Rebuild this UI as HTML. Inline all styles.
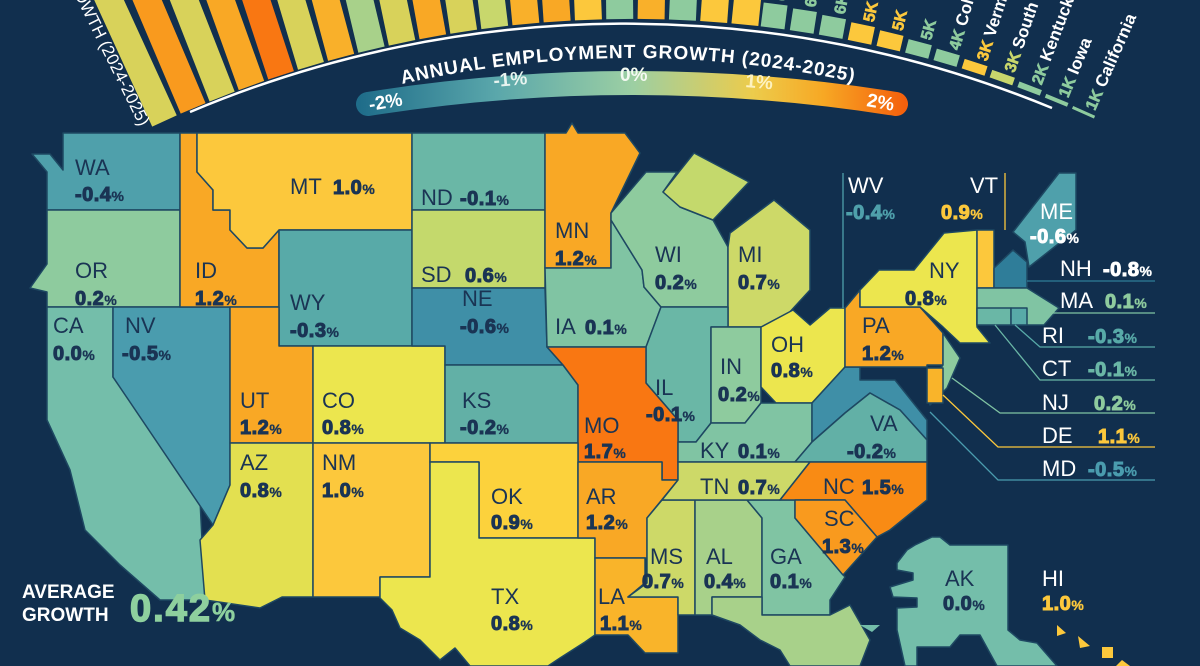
<!DOCTYPE html>
<html><head><meta charset="utf-8"><style>
html,body{margin:0;padding:0;background:#112f4e;}
svg{display:block}
.a{font-family:"Liberation Sans Narrow","Liberation Sans",sans-serif;font-size:22px;fill:#1a3454}
.v{font-family:"Liberation Sans",sans-serif;font-weight:bold;font-size:20px;fill:#1a3454;stroke:#1a3454;stroke-width:1.1;letter-spacing:0.5px}
.p{font-size:14px;stroke-width:0.3}
.w{fill:#fff}
.st{stroke:#1e4862;stroke-width:1.5;stroke-linejoin:round}
.bl{font-family:"Liberation Sans",sans-serif;font-weight:bold;font-size:16px;stroke-width:0.6}
.nm{font-family:"Liberation Sans",sans-serif;font-size:17px;fill:#fff}
</style></head><body>
<svg width="1200" height="666" viewBox="0 0 1200 666" xmlns="http://www.w3.org/2000/svg">
<defs>
<linearGradient id="lg" x1="360" y1="0" x2="905" y2="0" gradientUnits="userSpaceOnUse">
<stop offset="0" stop-color="#1f6d8a"/><stop offset="0.25" stop-color="#5aa7ab"/><stop offset="0.5" stop-color="#9ccfa3"/><stop offset="0.72" stop-color="#eccc4c"/><stop offset="0.85" stop-color="#f7a824"/><stop offset="1" stop-color="#f4600c"/>
</linearGradient>
<path id="tp" d="M 402 84 Q 632 32 862 84"/>
</defs>
<rect width="1200" height="666" fill="#112f4e"/>

<g>
<g transform="rotate(-24.6 632 1141)"><rect x="618" y="-300" width="27" height="319" fill="#d8d25a"/></g>
<g transform="rotate(-23.0 632 1141)"><rect x="618" y="-300" width="27" height="319" fill="#f99a1e"/></g>
<g transform="rotate(-21.4 632 1141)"><rect x="618" y="-300" width="27" height="319" fill="#d8d25a"/></g>
<g transform="rotate(-19.8 632 1141)"><rect x="618" y="-300" width="27" height="319" fill="#f9a825"/></g>
<g transform="rotate(-18.2 632 1141)"><rect x="618" y="-300" width="27" height="319" fill="#f97712"/></g>
<g transform="rotate(-16.6 632 1141)"><rect x="618" y="-300" width="27" height="319" fill="#d8d25a"/></g>
<g transform="rotate(-15.0 632 1141)"><rect x="618" y="-300" width="27" height="319" fill="#f9b02a"/></g>
<g transform="rotate(-13.4 632 1141)"><rect x="618" y="-300" width="27" height="319" fill="#a8d18a"/></g>
<g transform="rotate(-11.8 632 1141)"><rect x="618" y="-300" width="27" height="319" fill="#d8d25a"/></g>
<g transform="rotate(-10.2 632 1141)"><rect x="618" y="-300" width="27" height="319" fill="#f9a825"/></g>
<g transform="rotate(-8.6 632 1141)"><rect x="618" y="-300" width="27" height="319" fill="#d8d25a"/></g>
<g transform="rotate(-7.0 632 1141)"><rect x="618" y="-300" width="27" height="319" fill="#c8d76c"/></g>
<g transform="rotate(-5.4 632 1141)"><rect x="618" y="-300" width="27" height="319" fill="#f9b02a"/></g>
<g transform="rotate(-3.8 632 1141)"><rect x="618" y="-300" width="27" height="319" fill="#f9a825"/></g>
<g transform="rotate(-2.2 632 1141)"><rect x="618" y="-300" width="27" height="319" fill="#fcc83c"/></g>
<g transform="rotate(-0.6 632 1141)"><rect x="618" y="-300" width="27" height="319" fill="#8ecb9e"/></g>
<g transform="rotate(1.0 632 1141)"><rect x="618" y="-300" width="27" height="319" fill="#f9b02a"/></g>
<g transform="rotate(2.6 632 1141)"><rect x="618" y="-300" width="27" height="319" fill="#8ecb9e"/></g>
<g transform="rotate(4.2 632 1141)"><rect x="618" y="-300" width="27" height="319" fill="#fcc83c"/></g>
<g transform="rotate(5.8 632 1141)"><rect x="618" y="-300" width="27" height="319" fill="#fcc83c"/></g>

<g transform="rotate(7.3 632 1141)"><rect x="618" y="-5" width="24" height="24" fill="#8ecb9e"/><text transform="rotate(-90 640 -9)" x="640" y="-9" class="bl" fill="#8ecb9e" stroke="#8ecb9e">6K</text></g>
<g transform="rotate(8.8 632 1141)"><rect x="618" y="-3" width="24" height="22" fill="#8ecb9e"/><text transform="rotate(-90 640 -7)" x="640" y="-7" class="bl" fill="#8ecb9e" stroke="#8ecb9e">6K</text></g>
<g transform="rotate(10.3 632 1141)"><rect x="618" y="-1" width="24" height="20" fill="#8ecb9e"/><text transform="rotate(-90 640 -5)" x="640" y="-5" class="bl" fill="#8ecb9e" stroke="#8ecb9e">6K</text></g>
<g transform="rotate(11.8 632 1141)"><rect x="618" y="1" width="24" height="18" fill="#fcc83c"/><text transform="rotate(-90 640 -3)" x="640" y="-3" class="bl" fill="#fcc83c" stroke="#fcc83c">5K</text></g>
<g transform="rotate(13.3 632 1141)"><rect x="618" y="3" width="24" height="16" fill="#fcc83c"/><text transform="rotate(-90 640 -1)" x="640" y="-1" class="bl" fill="#fcc83c" stroke="#fcc83c">5K</text></g>
<g transform="rotate(14.8 632 1141)"><rect x="618" y="5" width="24" height="14" fill="#8ecb9e"/><text transform="rotate(-90 640 1)" x="640" y="1" class="bl" fill="#8ecb9e" stroke="#8ecb9e">5K</text></g>
<g transform="rotate(16.3 632 1141)"><rect x="618" y="7" width="24" height="12" fill="#8ecb9e"/><text transform="rotate(-90 640 3)" x="640" y="3" class="bl" fill="#8ecb9e" stroke="#8ecb9e">4K <tspan class="nm" stroke="none">Colorado</tspan></text></g>
<g transform="rotate(17.8 632 1141)"><rect x="618" y="9" width="24" height="10" fill="#fcc83c"/><text transform="rotate(-90 640 5)" x="640" y="5" class="bl" fill="#fcc83c" stroke="#fcc83c">3K <tspan class="nm" stroke="none">Vermont</tspan></text></g>
<g transform="rotate(19.3 632 1141)"><rect x="618" y="11" width="24" height="8" fill="#c8d76c"/><text transform="rotate(-90 640 7)" x="640" y="7" class="bl" fill="#c8d76c" stroke="#c8d76c">3K <tspan class="nm" stroke="none">South Dakota</tspan></text></g>
<g transform="rotate(20.8 632 1141)"><rect x="618" y="13" width="24" height="6" fill="#8ecb9e"/><text transform="rotate(-90 640 9)" x="640" y="9" class="bl" fill="#8ecb9e" stroke="#8ecb9e">2K <tspan class="nm" stroke="none">Kentucky</tspan></text></g>
<g transform="rotate(22.3 632 1141)"><rect x="618" y="15" width="24" height="4" fill="#8ecb9e"/><text transform="rotate(-90 640 11)" x="640" y="11" class="bl" fill="#8ecb9e" stroke="#8ecb9e">1K <tspan class="nm" stroke="none">Iowa</tspan></text></g>
<g transform="rotate(23.8 632 1141)"><rect x="618" y="16" width="24" height="3" fill="#8ecb9e"/><text transform="rotate(-90 640 12)" x="640" y="12" class="bl" fill="#8ecb9e" stroke="#8ecb9e">1K <tspan class="nm" stroke="none">California</tspan></text></g>
<g transform="rotate(-26.3 632 1141)"><text transform="rotate(90 640 14)" x="640" y="14" text-anchor="end" class="nm">ANNUAL EMPLOYMENT GROWTH (2024-2025)</text></g>
</g>
<path d="M 190 112 A 1119 1119 0 0 1 1052 108" fill="none" stroke="#fff" stroke-width="2.5"/>

<path d="M 368 104 Q 632 62 896 104" fill="none" stroke="url(#lg)" stroke-width="24" stroke-linecap="round"/>
<text font-family="Liberation Sans, sans-serif" font-weight="bold" font-size="19" fill="#fff"><textPath href="#tp" textLength="455">ANNUAL EMPLOYMENT GROWTH (2024-2025)</textPath></text>
<g font-family="Liberation Sans, sans-serif" font-size="19" font-weight="bold">
<text x="370" y="111" fill="#fff" transform="rotate(-10 370 111)">-2%</text>
<text x="494" y="87" fill="#e8f4f0" transform="rotate(-5 494 87)">-1%</text>
<text x="620" y="81" fill="#f4faf2">0%</text>
<text x="745" y="87" fill="#fdf2c0" transform="rotate(5 745 87)">1%</text>
<text x="866" y="106" fill="#fff" transform="rotate(10 866 106)">2%</text>
</g>

<g class="st">
<polygon fill="#4fa0ab" points="63,133 180,133 180,210 47,210 47,172 32,154 50,154 63,170"/>
<polygon fill="#8ecb9e" points="47,210 180,210 180,307 47,307 47,292 30,288 47,264"/>
<polygon fill="#74beaa" points="47,307 113,307 113,377 200,500 205,600 160,600 120,565 85,530 70,470 47,420"/>
<polygon fill="#4a9cae" points="113,307 230,307 230,485 213,525 113,377"/>
<polygon fill="#f9a825" points="180,133 197,133 197,172 213,190 213,210 230,210 230,230 247,248 263,248 279,230 279,307 180,307"/>
<polygon fill="#fcc83c" points="197,133 412,133 412,230 279,230 263,248 247,248 230,230 230,210 213,210 213,190 197,172"/>
<polygon fill="#58aaa8" points="279,230 412,230 412,346 279,346"/>
<polygon fill="#f9a825" points="230,307 279,307 279,346 313,346 313,443 230,443"/>
<polygon fill="#ece64e" points="313,346 445,346 445,443 313,443"/>
<polygon fill="#e3e050" points="230,443 313,443 313,597 282,597 260,608 205,600 200,540 213,525 230,485"/>
<polygon fill="#fcc83c" points="313,443 430,443 430,577 380,577 380,597 313,597"/>
<polygon fill="#6ab7a6" points="412,133 545,133 545,210 412,210"/>
<polygon fill="#c4d96c" points="412,210 545,210 545,288 412,288"/>
<polygon fill="#3f8fa7" points="412,288 545,288 547,347 563,365 445,365 445,346 412,346"/>
<polygon fill="#62b0a6" points="445,365 563,365 578,385 578,443 445,443"/>
<polygon fill="#f9a825" points="545,133 566,133 572,123 578,133 625,133 640,153 611,213 611,268 545,268"/>
<polygon fill="#80c4a3" points="545,268 611,268 611,220 642,270 644,287 661,307 646,347 547,347"/>
<polygon fill="#8ecb9e" points="611,213 646,172 677,172 663,192 680,207 713,220 728,247 728,307 661,307 644,287 642,270 611,220"/>
<polygon fill="#c4d96c" points="663,192 694,153 749,182 713,220 680,207"/>
<polygon fill="#cdd968" points="728,247 730,233 774,200 810,230 810,290 776,327 728,327"/>
<polygon fill="#6ab7a6" points="661,307 728,307 728,327 711,327 711,423 696,442 678,442 678,420 646,383 646,347"/>
<polygon fill="#f97712" points="547,347 646,347 646,383 678,420 678,480 662,480 662,462 578,462 578,385 563,365"/>
<polygon fill="#8ecb9e" points="711,327 761,327 761,403 745,423 711,423"/>
<polygon fill="#ece64e" points="761,327 793,310 810,325 830,308 845,308 845,367 812,403 776,403 761,387"/>
<polygon fill="#80c4a3" points="678,442 696,442 711,423 745,423 761,403 812,403 812,442 795,462 678,462"/>
<polygon fill="#3f8fa7" points="812,403 845,367 860,367 860,380 895,380 927,420 927,440 900,410 870,393 845,413 812,442"/>
<polygon fill="#62b0a6" points="812,442 845,413 870,393 900,410 927,440 927,462 795,462"/>
<polygon fill="#f9a825" points="845,308 860,290 860,307 920,307 943,333 943,365 927,365 927,367 845,367"/>
<polygon fill="#8ecb9e" points="943,333 960,358 947,388 930,405 927,385 943,365"/>
<polygon fill="#f9b42a" points="927,368 943,368 943,403 927,403"/>
<polygon fill="#ece64e" points="860,290 879,270 914,270 944,233 977,230 977,327 990,343 960,343 943,327 920,307 860,307"/>
<polygon fill="#fcc83c" points="977,230 994,230 994,288 977,288"/>
<polygon fill="#2f7d99" points="994,288 994,268 1013,250 1027,262 1027,288"/>
<polygon fill="#4fa0ab" points="1013,232 1059,173 1076,173 1076,230 1029,267 1025,242"/>
<polygon fill="#80c4a3" points="977,288 1027,288 1059,308 1044,325 977,325"/>
<polygon fill="#6ab7a6" points="977,308 1011,308 1011,325 977,325"/>
<polygon fill="#58aaa8" points="1011,308 1027,308 1027,325 1011,325"/>
<polygon fill="#fcd23c" points="430,443 578,443 578,538 479,538 479,462 430,462"/>
<polygon fill="#ece64e" points="430,462 479,462 479,538 595,538 595,635 585,642 560,658 548,666 470,666 455,648 440,660 420,640 400,628 392,610 380,598 380,577 430,577"/>
<polygon fill="#f9a825" points="578,462 662,462 662,480 678,480 647,518 647,558 595,558 595,538 578,538"/>
<polygon fill="#f9b42a" points="595,558 645,558 645,583 628,597 678,597 678,653 645,653 628,635 595,635"/>
<polygon fill="#cdd968" points="662,500 695,500 695,615 678,615 678,597 628,597 647,583 647,518"/>
<polygon fill="#a8d18a" points="695,500 747,500 762,518 762,597 712,597 712,615 695,615"/>
<polygon fill="#80c4a3" points="747,500 795,500 795,518 845,577 830,600 830,615 762,615 762,518"/>
<polygon fill="#a8d18a" points="712,597 762,597 762,615 830,615 850,605 870,640 860,666 790,666 780,650 760,640 740,625 712,615"/>
<polygon fill="#cdd968" points="678,462 810,462 780,500 662,500 678,480"/>
<polygon fill="#f98b14" points="810,462 927,462 927,500 890,530 877,537 845,500 780,500"/>
<polygon fill="#f99a1e" points="795,500 845,500 877,537 843,575 795,518"/>
<polygon fill="#74beaa" points="932,537 940,537 950,545 1008,545 1008,630 1020,640 1037,643 1057,666 997,666 980,635 960,635 950,647 917,647 917,666 905,666 897,630 897,608 917,607 917,598 893,597 890,587 913,580 913,573 897,570 897,563 907,550 915,545"/>
</g>
<g fill="#fcc83c">
<polygon points="1057,625 1066,633 1057,636"/><polygon points="1078,636 1090,646 1080,648"/><rect x="1102" y="647" width="11" height="11"/><polygon points="1122,660 1130,666 1116,666"/>
</g>
<polygon fill="#74beaa" points="860,625 880,625 872,632"/>

<g fill="none" stroke-width="1.3">
<line x1="843" y1="173" x2="843" y2="308" stroke="#4fa0ab"/>
<line x1="1005" y1="173" x2="1005" y2="230" stroke="#fcc83c"/>
<polyline points="1027,281 1155,281" stroke="#2f7d99"/>
<polyline points="1044,313 1155,313" stroke="#80c4a3"/>
<polyline points="1015,325 1040,347 1155,347" stroke="#58aaa8"/>
<polyline points="995,325 1040,380 1155,380" stroke="#6ab7a6"/>
<polyline points="952,378 1000,413 1155,413" stroke="#80c4a3"/>
<polyline points="943,395 998,447 1155,447" stroke="#fcc83c"/>
<polyline points="930,412 998,480 1155,480" stroke="#4a9cae"/>
</g>

<g>
<text class="a" x="75" y="175">WA</text><text class="v" x="75" y="201">-0.4<tspan class="p">%</tspan></text>
<text class="a" x="75" y="278">OR</text><text class="v" x="75" y="305">0.2<tspan class="p">%</tspan></text>
<text class="a" x="53" y="333">CA</text><text class="v" x="53" y="360">0.0<tspan class="p">%</tspan></text>
<text class="a" x="125" y="333">NV</text><text class="v" x="122" y="360">-0.5<tspan class="p">%</tspan></text>
<text class="a" x="195" y="278">ID</text><text class="v" x="195" y="305">1.2<tspan class="p">%</tspan></text>
<text class="a" x="290" y="194">MT</text><text class="v" x="333" y="194">1.0<tspan class="p">%</tspan></text>
<text class="a" x="421" y="205">ND</text><text class="v" x="460" y="205">-0.1<tspan class="p">%</tspan></text>
<text class="a" x="421" y="282">SD</text><text class="v" x="465" y="282">0.6<tspan class="p">%</tspan></text>
<text class="a" x="290" y="310">WY</text><text class="v" x="290" y="337">-0.3<tspan class="p">%</tspan></text>
<text class="a" x="462" y="306">NE</text><text class="v" x="460" y="333">-0.6<tspan class="p">%</tspan></text>
<text class="a" x="555" y="334">IA</text><text class="v" x="585" y="334">0.1<tspan class="p">%</tspan></text>
<text class="a" x="555" y="238">MN</text><text class="v" x="555" y="265">1.2<tspan class="p">%</tspan></text>
<text class="a" x="655" y="262">WI</text><text class="v" x="655" y="289">0.2<tspan class="p">%</tspan></text>
<text class="a" x="738" y="262">MI</text><text class="v" x="738" y="289">0.7<tspan class="p">%</tspan></text>
<text class="a" x="655" y="395">IL</text><text class="v" x="646" y="421">-0.1<tspan class="p">%</tspan></text>
<text class="a" x="720" y="374">IN</text><text class="v" x="718" y="401">0.2<tspan class="p">%</tspan></text>
<text class="a" x="771" y="352">OH</text><text class="v" x="771" y="377">0.8<tspan class="p">%</tspan></text>
<text class="a" x="862" y="333">PA</text><text class="v" x="862" y="360">1.2<tspan class="p">%</tspan></text>
<text class="a" x="929" y="278">NY</text><text class="v" x="905" y="305">0.8<tspan class="p">%</tspan></text>
<text class="a" x="240" y="408">UT</text><text class="v" x="240" y="434">1.2<tspan class="p">%</tspan></text>
<text class="a" x="322" y="408">CO</text><text class="v" x="322" y="434">0.8<tspan class="p">%</tspan></text>
<text class="a" x="462" y="408">KS</text><text class="v" x="460" y="434">-0.2<tspan class="p">%</tspan></text>
<text class="a" x="584" y="433">MO</text><text class="v" x="584" y="458">1.7<tspan class="p">%</tspan></text>
<text class="a" x="700" y="458">KY</text><text class="v" x="738" y="458">0.1<tspan class="p">%</tspan></text>
<text class="a" x="870" y="431">VA</text><text class="v" x="847" y="458">-0.2<tspan class="p">%</tspan></text>
<text class="a" x="700" y="494">TN</text><text class="v" x="738" y="494">0.7<tspan class="p">%</tspan></text>
<text class="a" x="823" y="494">NC</text><text class="v" x="862" y="494">1.5<tspan class="p">%</tspan></text>
<text class="a" x="240" y="470">AZ</text><text class="v" x="240" y="497">0.8<tspan class="p">%</tspan></text>
<text class="a" x="322" y="470">NM</text><text class="v" x="322" y="497">1.0<tspan class="p">%</tspan></text>
<text class="a" x="491" y="504">OK</text><text class="v" x="491" y="529">0.9<tspan class="p">%</tspan></text>
<text class="a" x="586" y="504">AR</text><text class="v" x="586" y="529">1.2<tspan class="p">%</tspan></text>
<text class="a" x="824" y="526">SC</text><text class="v" x="822" y="553">1.3<tspan class="p">%</tspan></text>
<text class="a" x="650" y="564">MS</text><text class="v" x="642" y="588">0.7<tspan class="p">%</tspan></text>
<text class="a" x="706" y="564">AL</text><text class="v" x="704" y="588">0.4<tspan class="p">%</tspan></text>
<text class="a" x="770" y="564">GA</text><text class="v" x="770" y="588">0.1<tspan class="p">%</tspan></text>
<text class="a" x="491" y="604">TX</text><text class="v" x="491" y="630">0.8<tspan class="p">%</tspan></text>
<text class="a" x="598" y="604">LA</text><text class="v" x="600" y="630">1.1<tspan class="p">%</tspan></text>
<text class="a" x="945" y="586">AK</text><text class="v" x="943" y="610">0.0<tspan class="p">%</tspan></text>
<text class="a w" x="1042" y="586">HI</text><text class="v" x="1042" y="610" style="fill:#fcc83c;stroke:#fcc83c">1.0<tspan class="p">%</tspan></text>
<text class="a w" x="848" y="193">WV</text><text class="v" x="846" y="219" style="fill:#4fa0ab;stroke:#4fa0ab">-0.4<tspan class="p">%</tspan></text>
<text class="a w" x="970" y="193">VT</text><text class="v" x="941" y="219" style="fill:#fcc83c;stroke:#fcc83c">0.9<tspan class="p">%</tspan></text>
<text class="a w" x="1040" y="219">ME</text><text class="v" x="1030" y="243" style="fill:#fff;stroke:#fff">-0.6<tspan class="p">%</tspan></text>
<text class="a w" x="1060" y="276">NH</text><text class="v" x="1103" y="276" style="fill:#fff;stroke:#fff">-0.8<tspan class="p">%</tspan></text>
<text class="a w" x="1060" y="308">MA</text><text class="v" x="1105" y="308" style="fill:#8ecb9e;stroke:#8ecb9e">0.1<tspan class="p">%</tspan></text>
<text class="a w" x="1042" y="343">RI</text><text class="v" x="1088" y="343" style="fill:#58aaa8;stroke:#58aaa8">-0.3<tspan class="p">%</tspan></text>
<text class="a w" x="1042" y="376">CT</text><text class="v" x="1088" y="376" style="fill:#6ab7a6;stroke:#6ab7a6">-0.1<tspan class="p">%</tspan></text>
<text class="a w" x="1042" y="410">NJ</text><text class="v" x="1094" y="410" style="fill:#8ecb9e;stroke:#8ecb9e">0.2<tspan class="p">%</tspan></text>
<text class="a w" x="1042" y="443">DE</text><text class="v" x="1098" y="443" style="fill:#fcc83c;stroke:#fcc83c">1.1<tspan class="p">%</tspan></text>
<text class="a w" x="1042" y="476">MD</text><text class="v" x="1088" y="476" style="fill:#4a9cae;stroke:#4a9cae">-0.5<tspan class="p">%</tspan></text>
</g>

<g font-family="Liberation Sans, sans-serif" font-weight="bold" fill="#fff">
<text x="22" y="598" font-size="19">AVERAGE</text>
<text x="22" y="621" font-size="19">GROWTH</text>
<text x="130" y="621" font-size="38" fill="#8ed09e" stroke="#8ed09e" stroke-width="1.5" letter-spacing="2">0.42<tspan font-size="26" stroke-width="0.5">%</tspan></text>
</g>
</svg>
</body></html>
